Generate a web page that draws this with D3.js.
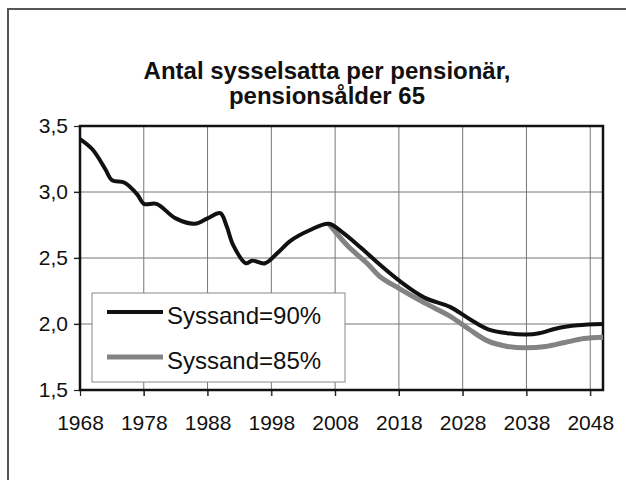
<!DOCTYPE html>
<html>
<head>
<meta charset="utf-8">
<script src="https://cdn.jsdelivr.net/npm/d3@7"></script>
<style>
  body { margin: 0; background: #fff; }
  text { font-family: "Liberation Sans", Arial, sans-serif; fill: #111; }
</style>
</head>
<body>
<div id="chart"></div>
<script>
// Antal sysselsatta per pensionär
var years90 = [1968, 1970, 1972, 1973, 1975, 1977, 1978, 1980, 1983, 1986, 1988, 1990, 1991, 1992, 1994, 1995, 1997, 1999, 2001, 2004, 2007, 2009, 2012, 2015, 2018, 2022, 2026, 2029, 2032, 2035, 2038, 2040, 2043, 2046, 2050];
var values90 = [3.40, 3.32, 3.17, 3.09, 3.07, 2.98, 2.91, 2.91, 2.80, 2.76, 2.80, 2.84, 2.74, 2.60, 2.46, 2.48, 2.46, 2.54, 2.63, 2.71, 2.76, 2.70, 2.58, 2.45, 2.33, 2.20, 2.13, 2.04, 1.96, 1.93, 1.92, 1.93, 1.97, 1.99, 2.00];

var years85 = [2007, 2010, 2013, 2015, 2018, 2022, 2026, 2029, 2032, 2035, 2038, 2041, 2044, 2047, 2050];
var values85 = [2.76, 2.59, 2.46, 2.36, 2.27, 2.16, 2.06, 1.96, 1.87, 1.83, 1.82, 1.83, 1.86, 1.89, 1.90];

var xTicks = [1968, 1978, 1988, 1998, 2008, 2018, 2028, 2038, 2048];
var yTicks = [1.5, 2.0, 2.5, 3.0, 3.5];
var titleLines = ['Antal sysselsatta per pensionär,', 'pensionsålder 65'];
var seriesNames = ['Syssand=90%', 'Syssand=85%'];

var width = 626, height = 480;
var plot = {left: 80, right: 603, top: 126, bottom: 390};

var svg = d3.select('#chart').append('svg')
  .attr('width', width)
  .attr('height', height);

// outer frame (only left and top visible)
svg.append('rect')
  .attr('x', 8).attr('y', 9)
  .attr('width', 700).attr('height', 600)
  .attr('fill', 'none')
  .attr('stroke', '#555')
  .attr('stroke-width', 2);

var x = d3.scaleLinear().domain([1968, 2050]).range([plot.left, plot.right]);
var y = d3.scaleLinear().domain([1.5, 3.5]).range([plot.bottom, plot.top]);

// title
svg.append('text')
  .attr('x', 327)
  .attr('text-anchor', 'middle')
  .style('font-weight', 'bold')
  .style('font-size', '24px')
  .selectAll('tspan')
  .data(titleLines)
  .enter().append('tspan')
  .attr('x', 327)
  .attr('y', function (d, i) { return 79 + i * 25; })
  .text(function (d) { return d; });

// grid lines
svg.append('g')
  .selectAll('line.v')
  .data(xTicks.slice(1))
  .enter().append('line')
  .attr('x1', function (d) { return x(d); })
  .attr('x2', function (d) { return x(d); })
  .attr('y1', plot.top)
  .attr('y2', plot.bottom + 6)
  .attr('stroke', '#777')
  .attr('stroke-width', 1);

svg.append('g')
  .selectAll('line.h')
  .data(yTicks.slice(1, -1))
  .enter().append('line')
  .attr('x1', plot.left - 6)
  .attr('x2', plot.right)
  .attr('y1', function (d) { return y(d); })
  .attr('y2', function (d) { return y(d); })
  .attr('stroke', '#777')
  .attr('stroke-width', 1);

// axes
var xAxis = d3.axisBottom(x)
  .tickValues(xTicks)
  .tickFormat(d3.format('d'))
  .tickSize(6)
  .tickPadding(19);

var yAxis = d3.axisLeft(y)
  .tickValues(yTicks)
  .tickFormat(function (d) { return d3.format('.1f')(d).replace('.', ','); })
  .tickSize(6)
  .tickPadding(6);

var gx = svg.append('g')
  .attr('transform', 'translate(0,' + plot.bottom + ')')
  .call(xAxis);
var gy = svg.append('g')
  .attr('transform', 'translate(' + plot.left + ',0)')
  .call(yAxis);

[gx, gy].forEach(function (g) {
  g.select('.domain').remove();
  g.selectAll('line').attr('stroke', '#222').attr('stroke-width', 1.2);
  g.selectAll('text')
    .style('font-size', '21px')
    .style('font-family', '"Liberation Sans", Arial, sans-serif')
    .attr('fill', '#111');
});

// plot border
svg.append('rect')
  .attr('x', plot.left).attr('y', plot.top)
  .attr('width', plot.right - plot.left)
  .attr('height', plot.bottom - plot.top)
  .attr('fill', 'none')
  .attr('stroke', '#111')
  .attr('stroke-width', 2.5);

// lines
var line = d3.line()
  .x(function (d) { return x(d[0]); })
  .y(function (d) { return y(d[1]); })
  .curve(d3.curveCatmullRom.alpha(0.5));

var data85 = d3.zip(years85, values85);
var data90 = d3.zip(years90, values90);

svg.append('path')
  .datum(data85)
  .attr('d', line)
  .attr('fill', 'none')
  .attr('stroke', '#838383')
  .attr('stroke-width', 5);

svg.append('path')
  .datum(data90)
  .attr('d', line)
  .attr('fill', 'none')
  .attr('stroke', '#111')
  .attr('stroke-width', 4);

// legend
var legend = svg.append('g');
legend.append('rect')
  .attr('x', 92).attr('y', 293)
  .attr('width', 253).attr('height', 89)
  .attr('fill', '#fff')
  .attr('stroke', '#888')
  .attr('stroke-width', 1);

var items = legend.selectAll('g.item')
  .data(seriesNames)
  .enter().append('g')
  .attr('transform', function (d, i) { return 'translate(0,' + (312 + i * 45) + ')'; });

items.append('line')
  .attr('x1', 107).attr('x2', 163)
  .attr('stroke', function (d, i) { return i === 0 ? '#111' : '#838383'; })
  .attr('stroke-width', function (d, i) { return i === 0 ? 4 : 5; });

items.append('text')
  .attr('x', 167)
  .attr('y', 12)
  .style('font-size', '24px')
  .text(function (d) { return d; });
</script>
</body>
</html>
